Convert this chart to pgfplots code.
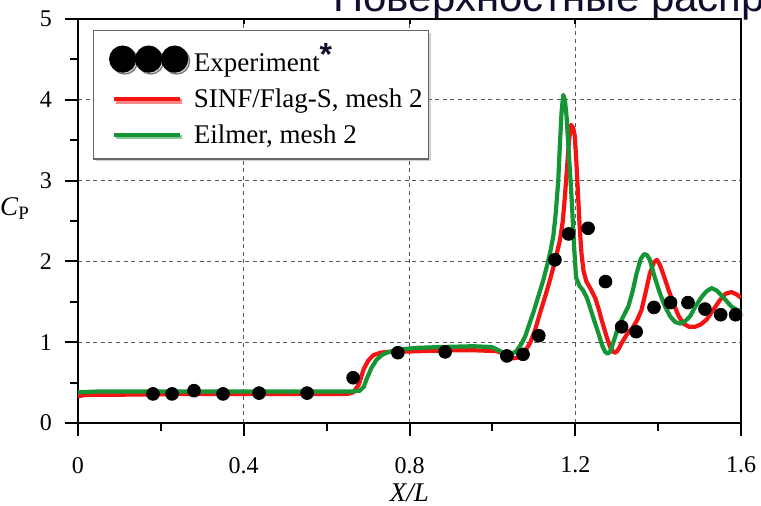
\documentclass[border=0pt]{standalone}
\usepackage{pgfplots}
\pgfplotsset{compat=1.18}
\usepackage{fontspec}
\setmainfont{Liberation Serif}
\newfontfamily\titlefont{Liberation Sans}
\usetikzlibrary{shadows}

\definecolor{sinfred}{RGB}{245,20,20}
\definecolor{eilgreen}{RGB}{20,150,55}
\definecolor{titleink}{RGB}{15,15,45}

% Experimental surface pressure coefficient
\pgfplotstableread{
x     cp
0.181 0.36
0.227 0.36
0.280 0.40
0.350 0.36
0.437 0.37
0.553 0.37
0.664 0.56
0.772 0.87
0.886 0.88
1.035 0.83
1.074 0.85
1.112 1.08
1.151 2.02
1.184 2.34
1.231 2.41
1.273 1.75
1.312 1.19
1.347 1.13
1.390 1.43
1.430 1.49
1.472 1.49
1.513 1.41
1.551 1.34
1.587 1.34
}\experiment

% SINF/Flag-S, mesh 2
\pgfplotstableread{
x     cp
0.000 0.33
0.020 0.35
0.100 0.35
0.300 0.36
0.500 0.36
0.650 0.36
0.665 0.38
0.678 0.48
0.689 0.66
0.700 0.77
0.713 0.84
0.730 0.87
0.745 0.88
0.800 0.885
0.833 0.89
0.900 0.90
0.954 0.90
1.010 0.89
1.035 0.84
1.051 0.80
1.071 0.82
1.091 0.99
1.103 1.15
1.115 1.36
1.127 1.56
1.139 1.77
1.151 2.00
1.163 2.26
1.170 2.50
1.175 2.80
1.180 3.15
1.185 3.50
1.190 3.69
1.195 3.65
1.199 3.55
1.203 3.20
1.207 2.80
1.211 2.40
1.215 2.10
1.220 1.88
1.227 1.75
1.237 1.66
1.248 1.55
1.256 1.42
1.264 1.27
1.275 1.08
1.284 0.94
1.292 0.88
1.298 0.87
1.305 0.92
1.312 0.99
1.325 1.10
1.340 1.19
1.350 1.28
1.360 1.40
1.370 1.62
1.380 1.85
1.390 1.99
1.397 2.02
1.404 1.96
1.412 1.85
1.425 1.65
1.437 1.48
1.449 1.33
1.461 1.23
1.475 1.19
1.489 1.19
1.503 1.22
1.517 1.28
1.533 1.40
1.549 1.52
1.563 1.60
1.577 1.62
1.590 1.59
1.600 1.55
}\sinf

% Eilmer, mesh 2
\pgfplotstableread{
x     cp
0.000 0.38
0.050 0.39
0.300 0.39
0.500 0.39
0.660 0.39
0.680 0.40
0.690 0.45
0.697 0.55
0.708 0.68
0.720 0.78
0.733 0.84
0.745 0.87
0.773 0.91
0.820 0.93
0.874 0.94
0.954 0.95
0.998 0.94
1.015 0.90
1.034 0.84
1.046 0.85
1.058 0.89
1.070 0.98
1.079 1.07
1.089 1.22
1.099 1.37
1.111 1.57
1.123 1.77
1.132 1.95
1.139 2.10
1.147 2.31
1.153 2.60
1.159 3.00
1.163 3.45
1.167 3.85
1.171 4.06
1.175 4.00
1.179 3.80
1.185 3.30
1.191 2.80
1.197 2.20
1.202 1.80
1.210 1.70
1.219 1.64
1.228 1.55
1.235 1.44
1.245 1.28
1.256 1.11
1.265 0.96
1.272 0.88
1.278 0.86
1.284 0.88
1.294 1.03
1.304 1.19
1.316 1.32
1.328 1.44
1.338 1.62
1.348 1.85
1.358 2.03
1.366 2.09
1.373 2.08
1.380 2.02
1.392 1.80
1.404 1.61
1.416 1.45
1.429 1.32
1.441 1.25
1.453 1.23
1.465 1.26
1.477 1.32
1.491 1.45
1.505 1.56
1.517 1.63
1.529 1.67
1.541 1.64
1.553 1.58
1.565 1.51
1.577 1.44
1.590 1.40
1.600 1.38
}\eilmer

\begin{document}
\begin{tikzpicture}
\useasboundingbox (-39pt,-41.5pt) rectangle (341.5pt,211.5pt);

% heading of the slide, running off the right edge
\node[anchor=base west, inner sep=0pt, text=titleink,
      font=\titlefont\fontsize{21}{25}\selectfont]
  at (127.5pt,205.5pt) {Поверхностные распределения};

\begin{axis}[
  at={(0,0)}, anchor=south west,
  scale only axis,
  width=331.5pt, height=202pt,
  xmin=0, xmax=1.6, ymin=0, ymax=5,
  xtick={0,0.4,0.8,1.2,1.6},
  ytick={0,1,2,3,4,5},
  minor x tick num=1, minor y tick num=1,
  tick pos=left,
  tick align=outside,
  major tick length=6.5pt,
  minor tick length=4pt,
  tick style={black, line width=1pt},
  extra x ticks={0.4,0.8,1.2},
  extra x tick labels={},
  extra x tick style={tick pos=right, tick align=inside,
                      major tick length=2.5pt, grid=none},
  axis line style={black, line width=1.3pt},
  xmajorgrids, ymajorgrids,
  grid style={gray!70!black, line width=0.6pt, dash pattern=on 2pt off 1.8pt},
  /pgf/number format/assume math mode=true,
  ticklabel style={font=\fontsize{12}{14}\selectfont},
  xticklabel style={yshift=-7pt},
  yticklabel style={xshift=-3pt},
  xlabel={\textit{X/L}},
  xlabel style={at={(axis description cs:0.5,0)}, anchor=base,
                yshift=-39.5pt, font=\fontsize{13.5}{15}\selectfont},
  ylabel={\textit{C}\textsubscript{P}},
  ylabel style={rotate=-90, at={(axis description cs:0,0.53)}, anchor=center,
                xshift=-31.5pt, font=\fontsize{13.5}{15}\selectfont},
  legend cell align=left,
  legend style={
    at={(axis description cs:0.0226,0.9728)}, anchor=north west,
    draw=gray!80!black, line width=0.6pt, fill=white,
    drop shadow={shadow xshift=1pt, shadow yshift=-1pt, fill=gray!70},
    font=\fontsize{13.5}{15}\selectfont,
    inner xsep=1pt, inner ysep=4.5pt,
    row sep=3pt,
    /tikz/every even column/.append style={column sep=3.5pt},
  },
]

\addplot[only marks, mark=*, mark size=3.2pt, black,
  legend image code/.code={
    \path (-6pt,0pt);
    \fill[black] (6.5pt,0pt) circle (6.5pt);
    \fill[black] (19.5pt,0pt) circle (6.5pt);
    \fill[black] (32.5pt,0pt) circle (6.5pt);
  }] table[x=x, y=cp] {\experiment};
\addlegendentry{Experiment\raisebox{3pt}{\titlefont\bfseries\fontsize{16}{16}\selectfont\textcolor{titleink}{*}}}

\addplot[sinfred, line width=2.1pt, line join=round, no marks,
  legend image code/.code={
    \path (-6pt,0pt) (39pt,0pt);
    \draw[sinfred, line width=2pt] (2pt,0pt) -- (35pt,0pt);
  }] table[x=x, y=cp] {\sinf};
\addlegendentry{SINF/Flag-S, mesh 2}

\addplot[eilgreen, line width=2.1pt, line join=round, no marks,
  legend image code/.code={
    \path (-6pt,0pt) (39pt,0pt);
    \draw[eilgreen, line width=2pt] (2pt,0pt) -- (35pt,0pt);
  }] table[x=x, y=cp] {\eilmer};
\addlegendentry{Eilmer, mesh 2}

\end{axis}
\end{tikzpicture}
\end{document}
